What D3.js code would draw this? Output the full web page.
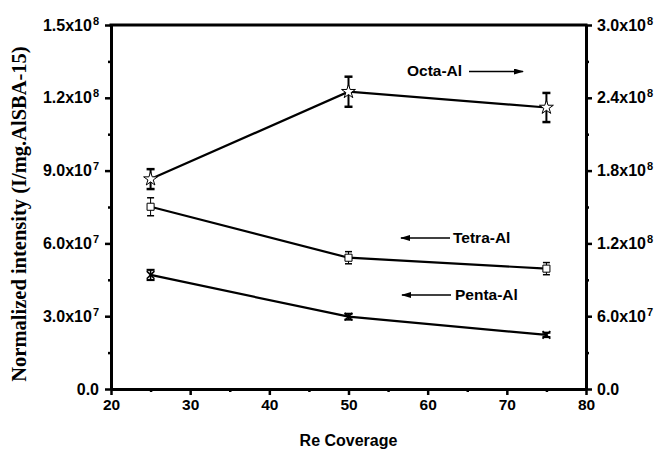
<!DOCTYPE html>
<html><head><meta charset="utf-8">
<script src="https://cdn.jsdelivr.net/npm/d3@7"></script>
<style>body{margin:0;background:#fff}svg{display:block}</style></head>
<body><svg id="c" width="655" height="451"></svg>
<script>
// ---- data ----
const coverage = [25, 50, 75];
const octa = [1.73e8, 2.45e8, 2.32e8];        // right axis
const octaErr = [0.082e8, 0.124e8, 0.12e8];
const tetra = [7.51e7, 5.41e7, 4.96e7];       // left axis
const tetraErr = [3.7e6, 2.5e6, 2.5e6];
const penta = [4.70e7, 2.98e7, 2.23e7];       // left axis
const pentaErr = [2.1e6, 1.2e6, 0.9e6];
const xTicks = [20, 30, 40, 50, 60, 70, 80];
const xMinor = [25, 35, 45, 55, 65, 75];
const leftTicks = [0, 3e7, 6e7, 9e7, 1.2e8, 1.5e8];
const leftLabels = ["0.0", "3.0x10^7", "6.0x10^7", "9.0x10^7", "1.2x10^8", "1.5x10^8"];
const leftMinor = [1.5e7, 4.5e7, 7.5e7, 1.05e8, 1.35e8];
const rightTicks = [0, 6e7, 1.2e8, 1.8e8, 2.4e8, 3e8];
const rightLabels = ["0.0", "6.0x10^7", "1.2x10^8", "1.8x10^8", "2.4x10^8", "3.0x10^8"];
const rightMinor = [3e7, 9e7, 1.5e8, 2.1e8, 2.7e8];
const seriesNames = ["Octa-Al", "Tetra-Al", "Penta-Al"];

// ---- layout ----
const L = 111, R = 586, T = 25, B = 389;
const svg = d3.select("#c");
const x = d3.scaleLinear([20, 80], [L, R]);
const yL = d3.scaleLinear([0, 1.5e8], [B, T]);
const yR = d3.scaleLinear([0, 3e8], [B, T]);
const FONT = "Arial, 'Liberation Sans', sans-serif";

svg.append("defs").append("marker")
  .attr("id", "ah").attr("viewBox", "0 0 10 6").attr("refX", 9).attr("refY", 3)
  .attr("markerWidth", 10).attr("markerHeight", 6).attr("markerUnits", "userSpaceOnUse")
  .attr("orient", "auto")
  .append("path").attr("d", "M0,0L10,3L0,6Z").attr("fill", "#000");

function styleAxis(g, labels, size) {
  g.attr("font-family", FONT).attr("font-weight", "bold").attr("font-size", size || 15.5);
  g.select(".domain").attr("stroke-width", 3).attr("stroke", "#000");
  g.selectAll(".tick line").attr("stroke-width", 2.5).attr("stroke", "#000");
  g.selectAll(".tick text").attr("fill", "#000").attr("font-weight", "bold");
  if (labels) {
    g.selectAll(".tick text").each(function(d, i) {
      const t = d3.select(this); const parts = labels[i].split("^");
      t.text(null);
      t.append("tspan").text(parts[0]);
      if (parts[1]) t.append("tspan").attr("dx", 1).attr("dy", "-0.55em").attr("font-size", 11).text(parts[1]);
    });
  }
}

// bottom
const gx = svg.append("g").attr("transform", `translate(0,${B})`)
  .call(d3.axisBottom(x).tickValues(xTicks).tickSize(6).tickSizeOuter(0).tickPadding(4).tickFormat(d3.format("d")));
styleAxis(gx, null, 15.5);
const gxm = svg.append("g").attr("transform", `translate(0,${B})`)
  .call(d3.axisBottom(x).tickValues(xMinor).tickSize(3).tickSizeOuter(0).tickFormat(""));
styleAxis(gxm);
// left
const gl = svg.append("g").attr("transform", `translate(${L},0)`)
  .call(d3.axisLeft(yL).tickValues(leftTicks).tickSize(6).tickSizeOuter(0).tickPadding(6));
styleAxis(gl, leftLabels, 16);
const glm = svg.append("g").attr("transform", `translate(${L},0)`)
  .call(d3.axisLeft(yL).tickValues(leftMinor).tickSize(3).tickSizeOuter(0).tickFormat(""));
styleAxis(glm);
// right
const gr = svg.append("g").attr("transform", `translate(${R},0)`)
  .call(d3.axisRight(yR).tickValues(rightTicks).tickSize(6).tickSizeOuter(0).tickPadding(5));
styleAxis(gr, rightLabels, 16);
const grm = svg.append("g").attr("transform", `translate(${R},0)`)
  .call(d3.axisRight(yR).tickValues(rightMinor).tickSize(3).tickSizeOuter(0).tickFormat(""));
styleAxis(grm);
// top
svg.append("line").attr("x1", L - 1.5).attr("x2", R + 1.5).attr("y1", T).attr("y2", T)
  .attr("stroke", "#000").attr("stroke-width", 3);

// ---- series ----
const line = (ys, sc) => d3.line().x((d, i) => x(coverage[i])).y(d => sc(d))(ys);
function drawSeries(vals, errs, sc, sym, size, capW, ebW) {
  svg.append("path").attr("d", line(vals, sc)).attr("fill", "none")
    .attr("stroke", "#000").attr("stroke-width", 2.2);
  const g = svg.append("g");
  vals.forEach((v, i) => {
    const cx = x(coverage[i]);
    const y1 = sc(v + errs[i]), y2 = sc(v - errs[i]);
    g.append("line").attr("x1", cx).attr("x2", cx).attr("y1", y1).attr("y2", y2)
      .attr("stroke", "#000").attr("stroke-width", ebW);
    [y1, y2].forEach(yy => g.append("line").attr("x1", cx - capW / 2).attr("x2", cx + capW / 2)
      .attr("y1", yy).attr("y2", yy).attr("stroke", "#000").attr("stroke-width", ebW + 0.5));
    g.append("path").attr("transform", `translate(${cx},${sc(v)})`)
      .attr("d", d3.symbol(sym, size)())
      .attr("fill", sym === d3.symbolX ? "none" : "#fff")
      .attr("stroke", "#000").attr("stroke-width", sym === d3.symbolX ? 1.6 : 1);
  });
}
drawSeries(octa, octaErr, yR, d3.symbolStar, 60, 8, 2);
drawSeries(tetra, tetraErr, yL, d3.symbolSquare, 50, 7, 1);
drawSeries(penta, pentaErr, yL, d3.symbolX, 40, 8, 1.6);

// ---- annotations ----
const ann = svg.append("g").attr("font-family", FONT).attr("font-weight", "bold").attr("font-size", 15.5);
ann.append("text").attr("x", 407).attr("y", 76).text(seriesNames[0]);
ann.append("line").attr("x1", 469).attr("x2", 523).attr("y1", 71.5).attr("y2", 71.5)
  .attr("stroke", "#000").attr("stroke-width", 1.6).attr("marker-end", "url(#ah)");
ann.append("text").attr("x", 453).attr("y", 243).text(seriesNames[1]);
ann.append("line").attr("x1", 450).attr("x2", 401).attr("y1", 238).attr("y2", 238)
  .attr("stroke", "#000").attr("stroke-width", 1.6).attr("marker-end", "url(#ah)");
ann.append("text").attr("x", 455).attr("y", 300).text(seriesNames[2]);
ann.append("line").attr("x1", 451).attr("x2", 402).attr("y1", 295).attr("y2", 295)
  .attr("stroke", "#000").attr("stroke-width", 1.6).attr("marker-end", "url(#ah)");

// ---- titles ----
svg.append("text").attr("x", (L + R) / 2).attr("y", 446).attr("text-anchor", "middle")
  .attr("font-family", FONT).attr("font-weight", "bold").attr("font-size", 16)
  .text("Re Coverage");
svg.append("text").attr("transform", `translate(26,214) rotate(-90)`)
  .attr("text-anchor", "middle")
  .attr("font-family", "'Liberation Serif', 'Times New Roman', serif").attr("font-weight", "bold")
  .attr("font-size", 20.5)
  .text("Normalized intensity (I/mg.AlSBA-15)");
</script></body></html>
